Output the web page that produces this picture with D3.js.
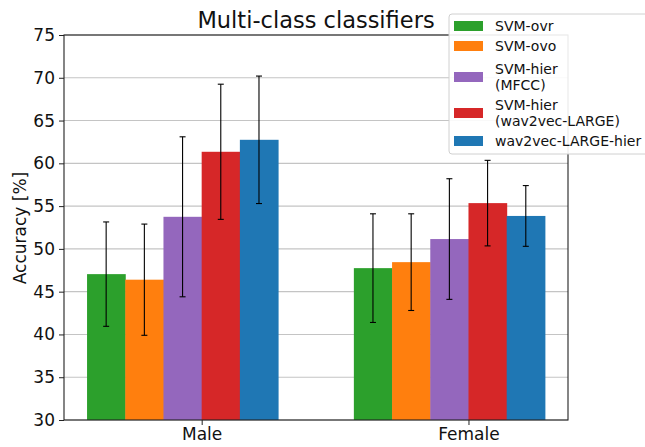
<!DOCTYPE html>
<html>
<head>
<meta charset="utf-8">
<script src="https://cdn.jsdelivr.net/npm/d3@7"></script>
<style>
  body { margin: 0; background: #fff; }
  text { font-family: "DejaVu Sans", sans-serif; }
</style>
</head>
<body>
<div id="chart"></div>
<script>
const groups = ["Male", "Female"];
const seriesNames = ["SVM-ovr", "SVM-ovo", "SVM-hier\n(MFCC)", "SVM-hier\n(wav2vec-LARGE)", "wav2vec-LARGE-hier"];
const colors = ["#2ca02c", "#ff7f0e", "#9467bd", "#d62728", "#1f77b4"];
// per series: [Male, Female]
const means = [
  [47.05, 47.75],
  [46.4, 48.45],
  [53.75, 51.15],
  [61.35, 55.35],
  [62.75, 53.85]
];
const errs = [
  [6.1, 6.35],
  [6.5, 5.65],
  [9.35, 7.05],
  [7.9, 5.0],
  [7.45, 3.55]
];
const yTicks = [30, 35, 40, 45, 50, 55, 60, 65, 70, 75];

const W = 645, H = 447;
const margin = { top: 35, right: 77, bottom: 27, left: 64 };
const width = W - margin.left - margin.right;
const height = H - margin.top - margin.bottom;
const barW = 0.1432;

const svg = d3.select("#chart").append("svg")
  .attr("width", W).attr("height", H);

const g = svg.append("g")
  .attr("transform", `translate(${margin.left},${margin.top})`);

const xScale = d3.scaleLinear().domain([-0.516, 1.373]).range([0, width]);
const yScale = d3.scaleLinear().domain([30, 75]).range([height, 0]);

// grid
g.selectAll(".grid").data(yTicks).enter().append("line")
  .attr("x1", 0).attr("x2", width)
  .attr("y1", (d) => yScale(d)).attr("y2", (d) => yScale(d))
  .attr("stroke", "#c4c4c4").attr("stroke-width", 1.1);

// bars
seriesNames.forEach((name, i) => {
  const data = groups.map((grp, j) => ({ j, v: means[i][j], e: errs[i][j] }));
  g.selectAll(".bar" + i).data(data).enter().append("rect")
    .attr("x", (d) => xScale(d.j + (i - 3) * barW))
    .attr("width", (d) => xScale(d.j + (i - 2) * barW) - xScale(d.j + (i - 3) * barW) + 0.5)
    .attr("y", (d) => yScale(d.v))
    .attr("height", (d) => height - yScale(d.v))
    .attr("fill", colors[i]);
});

// error bars
seriesNames.forEach((name, i) => {
  groups.forEach((grp, j) => {
    const cx = xScale(j + (i - 2.5) * barW);
    const lo = yScale(means[i][j] - errs[i][j]);
    const hi = yScale(means[i][j] + errs[i][j]);
    g.append("line").attr("x1", cx).attr("x2", cx).attr("y1", lo).attr("y2", hi)
      .attr("stroke", "#000").attr("stroke-width", 1.1);
    [lo, hi].forEach((yy) => {
      g.append("line").attr("x1", cx - 3).attr("x2", cx + 3).attr("y1", yy).attr("y2", yy)
        .attr("stroke", "#000").attr("stroke-width", 1.1);
    });
  });
});

// axes
const yAxis = g.append("g").call(d3.axisLeft(yScale).tickValues(yTicks).tickSize(5).tickPadding(4));
const xAxis = g.append("g").attr("transform", `translate(0,${height})`)
  .call(d3.axisBottom(xScale).tickValues([0, 1]).tickFormat((d) => groups[d]).tickSize(5).tickPadding(3));
[yAxis, xAxis].forEach((ax) => {
  ax.select(".domain").remove();
  ax.selectAll("text").style("font-size", "17px").attr("fill", "#111");
  ax.selectAll("line").attr("stroke", "#222").attr("stroke-width", 1);
});

// spines
g.append("rect").attr("x", 0).attr("y", 0).attr("width", width).attr("height", height)
  .attr("fill", "none").attr("stroke", "#222").attr("stroke-width", 1.1);

// labels
svg.append("text")
  .attr("text-anchor", "middle")
  .attr("transform", `translate(26,${margin.top + height / 2 + 0.5})rotate(-90)`)
  .style("font-size", "17px").attr("fill", "#111")
  .text("Accuracy [%]");

svg.append("text")
  .attr("x", margin.left + width / 2).attr("y", 28)
  .attr("text-anchor", "middle")
  .style("font-size", "22.5px").attr("fill", "#111")
  .text("Multi-class classifiers");

// legend
const legend = svg.append("g").attr("transform", "translate(449,14)");
legend.append("rect").attr("x", 0).attr("y", 0).attr("width", 210).attr("height", 140)
  .attr("rx", 3).attr("fill", "#fff").attr("fill-opacity", 0.9)
  .attr("stroke", "#d0d0d0").attr("stroke-width", 1);

const rowY = [12, 32, 63, 99, 127];
seriesNames.forEach((name, i) => {
  const lines = name.split("\n");
  legend.append("rect").attr("x", 5).attr("y", rowY[i] - 5).attr("width", 29).attr("height", 10)
    .attr("fill", colors[i]);
  lines.forEach((ln, k) => {
    legend.append("text")
      .attr("x", 46)
      .attr("y", rowY[i] + (k - (lines.length - 1) / 2) * 15.8)
      .attr("dy", "0.36em")
      .style("font-size", "14px").attr("fill", "#111")
      .text(ln);
  });
});
</script>
</body>
</html>
